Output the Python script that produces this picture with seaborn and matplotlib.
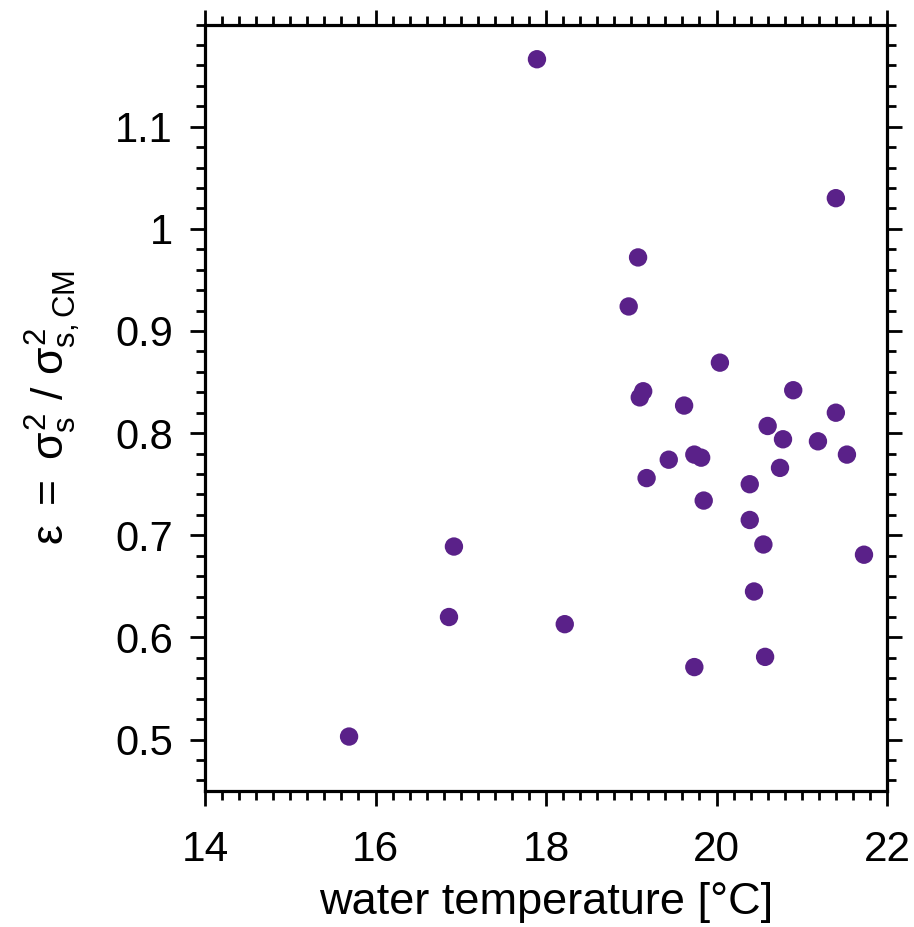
import matplotlib
matplotlib.use("Agg")
import matplotlib.pyplot as plt
import seaborn as sns
import pandas as pd
from matplotlib.ticker import MultipleLocator

temperature = [15.69, 17.894, 16.862, 16.92, 18.22, 18.97, 19.08, 19.14, 19.10, 19.18,
               19.44, 19.62, 19.74, 19.82, 19.85, 19.74, 20.04, 20.39, 20.39, 20.44,
               20.55, 20.57, 20.60, 20.78, 20.745, 20.90, 21.19, 21.40, 21.40, 21.53, 21.73]
epsilon = [0.503, 1.166, 0.620, 0.689, 0.613, 0.924, 0.972, 0.841, 0.835, 0.756,
           0.774, 0.827, 0.779, 0.776, 0.734, 0.571, 0.869, 0.750, 0.715, 0.645,
           0.691, 0.581, 0.807, 0.794, 0.766, 0.842, 0.792, 0.820, 1.030, 0.779, 0.681]
y_ticks = [0.5, 0.6, 0.7, 0.8, 0.9, 1.0, 1.1]
y_ticklabels = ["0.5", "0.6", "0.7", "0.8", "0.9", "1", "1.1"]

df = pd.DataFrame({"temperature": temperature, "epsilon": epsilon})

sns.set_theme(style="ticks")
plt.rcParams["font.family"] = ["Liberation Sans", "DejaVu Sans"]
plt.rcParams["text.color"] = "black"
plt.rcParams["axes.labelcolor"] = "black"
plt.rcParams["xtick.color"] = "black"
plt.rcParams["ytick.color"] = "black"
plt.rcParams["mathtext.fontset"] = "custom"
plt.rcParams["mathtext.rm"] = "Liberation Sans"
plt.rcParams["mathtext.it"] = "Liberation Sans"
plt.rcParams["mathtext.bf"] = "Liberation Sans:bold"

fig = plt.figure(figsize=(9.14, 9.27), dpi=100)
ax = fig.add_axes([205/914, 1-790.7/927, (887-205)/914, (790.7-24.5)/927])

sns.scatterplot(data=df, x="temperature", y="epsilon", ax=ax, color="#5a2189",
                s=175, edgecolor="none", linewidth=0, legend=False)

ax.set_xlim(14, 22)
ax.set_ylim(0.45, 1.2)
ax.xaxis.set_major_locator(MultipleLocator(2))
ax.xaxis.set_minor_locator(MultipleLocator(0.2))
ax.yaxis.set_minor_locator(MultipleLocator(0.02))
ax.set_yticks(y_ticks)
ax.set_yticklabels(y_ticklabels)

for s in ax.spines.values():
    s.set_linewidth(2.3)
    s.set_color("black")
    s.set_visible(True)

ax.tick_params(which="both", direction="out", top=True, right=True,
               labeltop=False, labelright=False, color="black", width=2.0)
ax.tick_params(which="major", length=11)
ax.tick_params(which="minor", length=6.2)
ax.tick_params(axis="x", which="major", labelsize=30.5, pad=17, labelcolor="black")
ax.tick_params(axis="y", which="major", labelsize=30, pad=12, labelcolor="black")

ax.set_xlabel("water temperature [°C]", fontsize=32.5, labelpad=9, color="black")
ax.set_ylabel(r"$\varepsilon\ =\ \sigma_\mathrm{s}^2\ /\ \sigma_\mathrm{s,CM}^2$", fontsize=32,
              labelpad=24, color="black")

fig.savefig("out.png", dpi=100)
